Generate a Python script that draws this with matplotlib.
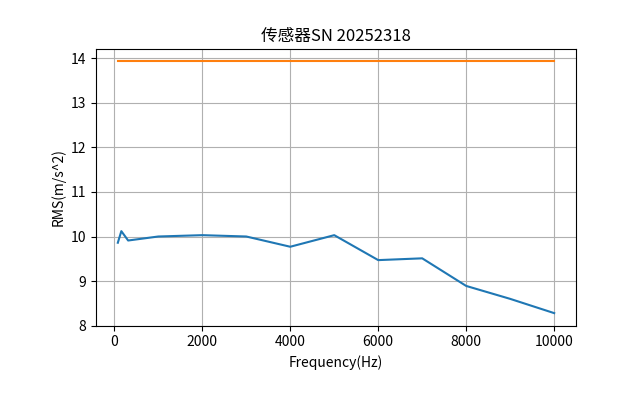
import matplotlib
matplotlib.use('Agg')
import matplotlib.pyplot as plt

plt.rcParams['font.family'] = ['Noto Sans CJK SC', 'DejaVu Sans']
plt.rcParams['axes.unicode_minus'] = False

freq = [80, 160, 315, 1000, 2000, 3000, 4000, 5000, 6000, 7000, 8000, 9000, 10000]
rms_measured = [9.86, 10.12, 9.91, 10.0, 10.03, 10.0, 9.77, 10.03, 9.47, 9.51, 8.89, 8.6, 8.28]
rms_ref = [13.93] * len(freq)

fig = plt.figure(figsize=(6.4, 4.07), dpi=100)
plt.plot(freq, rms_measured)
plt.plot(freq, rms_ref)
plt.title('传感器SN 20252318')
plt.xlabel('Frequency(Hz)')
plt.ylabel('RMS(m/s^2)')
plt.grid(True)
plt.ylim(bottom=8.0)
plt.subplots_adjust(left=0.15, bottom=0.2, right=0.9, top=0.88)
plt.savefig('out.png')
plt.close()
